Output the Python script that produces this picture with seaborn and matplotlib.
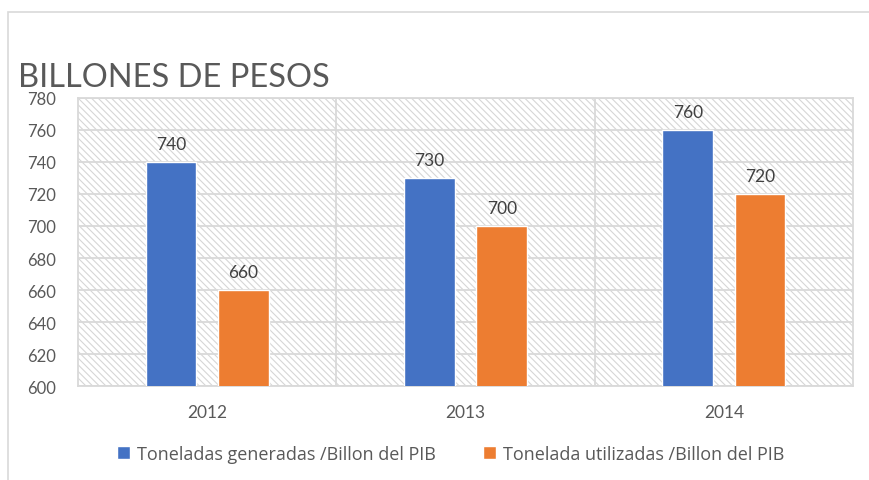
import pandas as pd
import seaborn as sns
import matplotlib.pyplot as plt
from matplotlib.patches import Rectangle

years = ['2012', '2013', '2014']
generadas = [740, 730, 760]
utilizadas = [660, 700, 720]
series_names = ['Toneladas generadas /Billon del PIB', 'Tonelada utilizadas /Billon del PIB']
colors = ['#4472C4', '#ED7D31']
yticks = list(range(600, 781, 20))

df = pd.DataFrame({
    'year': years * 2,
    'value': generadas + utilizadas,
    'serie': [series_names[0]] * 3 + [series_names[1]] * 3,
})

sns.set_theme(style='white')
plt.rcParams['font.family'] = ['Lato', 'DejaVu Sans']
plt.rcParams['hatch.color'] = '#d6d6d6'
plt.rcParams['hatch.linewidth'] = 0.8

fig = plt.figure(figsize=(8.7, 4.81), dpi=100)
ax = fig.add_axes([0.0897, 0.1954, 0.8908, 0.5988])

# hatched plot background
ax.add_patch(Rectangle((0, 0), 1, 1, transform=ax.transAxes, facecolor='white',
                       edgecolor='#d6d6d6', hatch='\\\\\\\\\\', lw=0, zorder=0))

sns.barplot(data=df, x='year', y='value', hue='serie', palette=colors,
            saturation=1, width=0.56, gap=0.3, ax=ax, zorder=3, legend=True)

ax.set_ylim(600, 780)
ax.set_xlim(-0.5, 2.5)
ax.set_yticks(yticks)
ax.yaxis.grid(True, color='#d9d9d9', lw=1.3, zorder=1)
for x in [0.5, 1.5]:
    ax.axvline(x, color='#d9d9d9', lw=1.3, zorder=1)
for s in ax.spines.values():
    s.set_color('#d9d9d9')
    s.set_linewidth(1.3)
    s.set_zorder(1)
ax.tick_params(axis='x', length=0, pad=13, labelsize=12.5, labelcolor='#595959')
ax.tick_params(axis='y', length=0, pad=37, labelsize=12, labelcolor='#595959')
for lbl in ax.get_yticklabels():
    lbl.set_horizontalalignment('left')
ax.set_xlabel('')
ax.set_ylabel('')

for cont in ax.containers:
    ax.bar_label(cont, fmt='%d', padding=7, fontsize=12.5, color='#404040')

handles, labels = ax.get_legend_handles_labels()
ax.get_legend().remove()
fig.legend(handles, labels, loc='center', bbox_to_anchor=(0.518, 0.054), ncol=2,
           frameon=False, handlelength=0.7, handleheight=0.7,
           handletextpad=0.4, columnspacing=2.6, labelcolor='#595959',
           prop={'family': 'Open Sans', 'size': 13})

fig.text(0.021, 0.838, 'BILLONES DE PESOS', fontsize=23.5, color='#595959', va='center')

# outer chart frame
fig.patches.append(Rectangle((0.0092, -0.1), 1.1, 1.073, transform=fig.transFigure,
                             fill=False, edgecolor='#d9d9d9', lw=1.2))

fig.savefig('out.png', dpi=100)
